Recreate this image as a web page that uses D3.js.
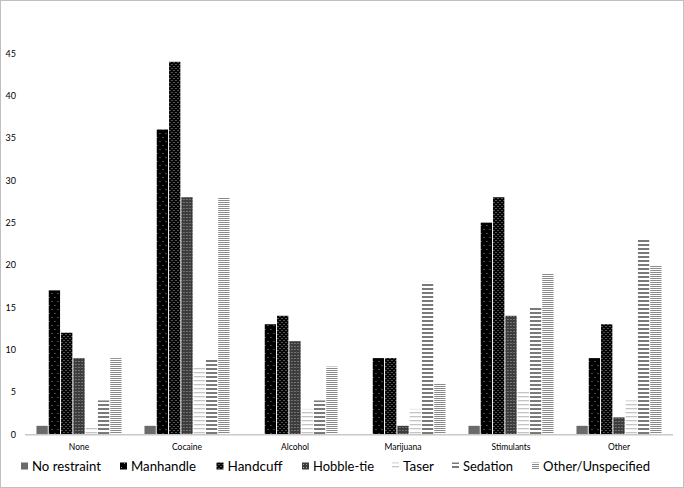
<!DOCTYPE html>
<html>
<head>
<meta charset="utf-8">
<script src="https://cdn.jsdelivr.net/npm/d3@7"></script>
<style>
  html, body { margin: 0; padding: 0; background: #fff; }
  svg { display: block; }
  text { font-family: Lato, "Open Sans", sans-serif; fill: #000; }
</style>
</head>
<body>
<svg id="chart" width="684" height="488"></svg>
<script>
const categories = ["None", "Cocaine", "Alcohol", "Marijuana", "Stimulants", "Other"];
const seriesNames = ["No restraint", "Manhandle", "Handcuff", "Hobble-tie", "Taser", "Sedation", "Other/Unspecified"];
const noRestraint  = [1, 1, 0, 0, 1, 1];
const manhandle    = [17, 36, 13, 9, 25, 9];
const handcuff     = [12, 44, 14, 9, 28, 13];
const hobbleTie    = [9, 28, 11, 1, 14, 2];
const taser        = [1, 8, 3, 3, 5, 4];
const sedation     = [4, 9, 4, 18, 15, 23];
const otherUnspec  = [9, 28, 8, 6, 19, 20];
const yTicks = [0, 5, 10, 15, 20, 25, 30, 35, 40, 45];

const seriesValues = [noRestraint, manhandle, handcuff, hobbleTie, taser, sedation, otherUnspec];

const svg = d3.select("#chart");
const W = 684, H = 488;

// border
svg.append("rect").attr("x", 0.5).attr("y", 0.5).attr("width", W - 1).attr("height", H - 1)
  .attr("fill", "#fff").attr("stroke", "#c0c0c0").attr("stroke-width", 1);

// patterns
const defs = svg.append("defs");
function dotPattern(id, bg, fg, size, dots, r) {
  const p = defs.append("pattern").attr("id", id).attr("patternUnits", "userSpaceOnUse")
    .attr("width", size[0]).attr("height", size[1]);
  p.append("rect").attr("width", size[0]).attr("height", size[1]).attr("fill", bg);
  dots.forEach(d => p.append("rect").attr("x", d[0]).attr("y", d[1]).attr("width", r).attr("height", r).attr("fill", fg));
}
function linePattern(id, fg, period, thick) {
  const p = defs.append("pattern").attr("id", id).attr("patternUnits", "userSpaceOnUse")
    .attr("width", 8).attr("height", period);
  p.append("rect").attr("width", 8).attr("height", period).attr("fill", "#fff");
  p.append("rect").attr("x", 0).attr("y", 0).attr("width", 8).attr("height", thick).attr("fill", fg);
}
dotPattern("p-man", "#000", "#8a8a8a", [6, 8], [[1, 1], [4, 5]], 1);
dotPattern("p-hand", "#050505", "#a0a0a0", [4, 4], [[0, 0], [2, 2]], 1);
dotPattern("p-hob", "#3c3c3c", "#a6a6a6", [3, 3], [[1, 1]], 1);
linePattern("p-taser", "#c4c4c4", 4, 1.3);
linePattern("p-sed", "#7a7a7a", 4, 2);
linePattern("p-oth", "#8a8a8a", 2, 1);

const fills = ["#6b6b6b", "url(#p-man)", "url(#p-hand)", "url(#p-hob)", "url(#p-taser)", "url(#p-sed)", "url(#p-oth)"];

const x0 = d3.scaleBand().domain(categories).range([25, 673]).paddingInner(0.194).paddingOuter(0.097);
const x1 = d3.scaleBand().domain(seriesNames).range([0, x0.bandwidth()]).padding(0.08);
const y = d3.scaleLinear().domain([0, 50]).range([434.3, 11]);

// y axis labels
const yAxis = d3.axisLeft(y).tickValues(yTicks).tickSize(0).tickPadding(0);
const yg = svg.append("g").attr("transform", "translate(16,0)").call(yAxis);
yg.select(".domain").remove();
yg.selectAll("text").attr("font-size", 9).attr("fill", "#000").style("font-family", "Lato, 'Open Sans', sans-serif");

// bars
const groups = svg.append("g").selectAll("g").data(categories).join("g")
  .attr("transform", d => `translate(${x0(d)},0)`);
groups.selectAll("rect").data((c, ci) => seriesNames.map((s, si) => ({ s, si, v: seriesValues[si][ci] })))
  .join("rect")
  .attr("x", d => x1(d.s))
  .attr("width", x1.bandwidth())
  .attr("y", d => y(d.v))
  .attr("height", d => y(0) - y(d.v))
  .attr("fill", d => fills[d.si]);

// x axis
const xAxis = d3.axisBottom(x0).tickSize(0).tickPadding(0);
const xg = svg.append("g").attr("transform", `translate(0,${y(0)})`).call(xAxis);
xg.select(".domain").attr("d", `M25,0.5H673`).attr("stroke", "#c8c8c8").attr("stroke-width", 1.5);
xg.selectAll("text").attr("font-size", 8.5).attr("fill", "#000").attr("dy", 0).attr("y", 16)
  .style("font-family", "Lato, 'Open Sans', sans-serif");

// legend (layout: symbol left edges and text widths)
const legendX = [21, 120, 216.5, 302, 392, 452, 532];
const legendW = [69, 65, 55, 61, 31, 50, 107];
const legend = svg.append("g").attr("transform", "translate(0,466)");
seriesNames.forEach((name, i) => {
  const g = legend.append("g").attr("transform", `translate(${legendX[i]},0)`);
  g.append("rect").attr("x", 0).attr("y", -3.5).attr("width", 7).attr("height", 7).attr("fill", fills[i]);
  g.append("text").attr("x", 11).attr("y", 0).attr("dy", "0.35em").attr("font-size", 14)
    .attr("textLength", legendW[i]).attr("lengthAdjust", "spacingAndGlyphs").text(name);
});
</script>
</body>
</html>
